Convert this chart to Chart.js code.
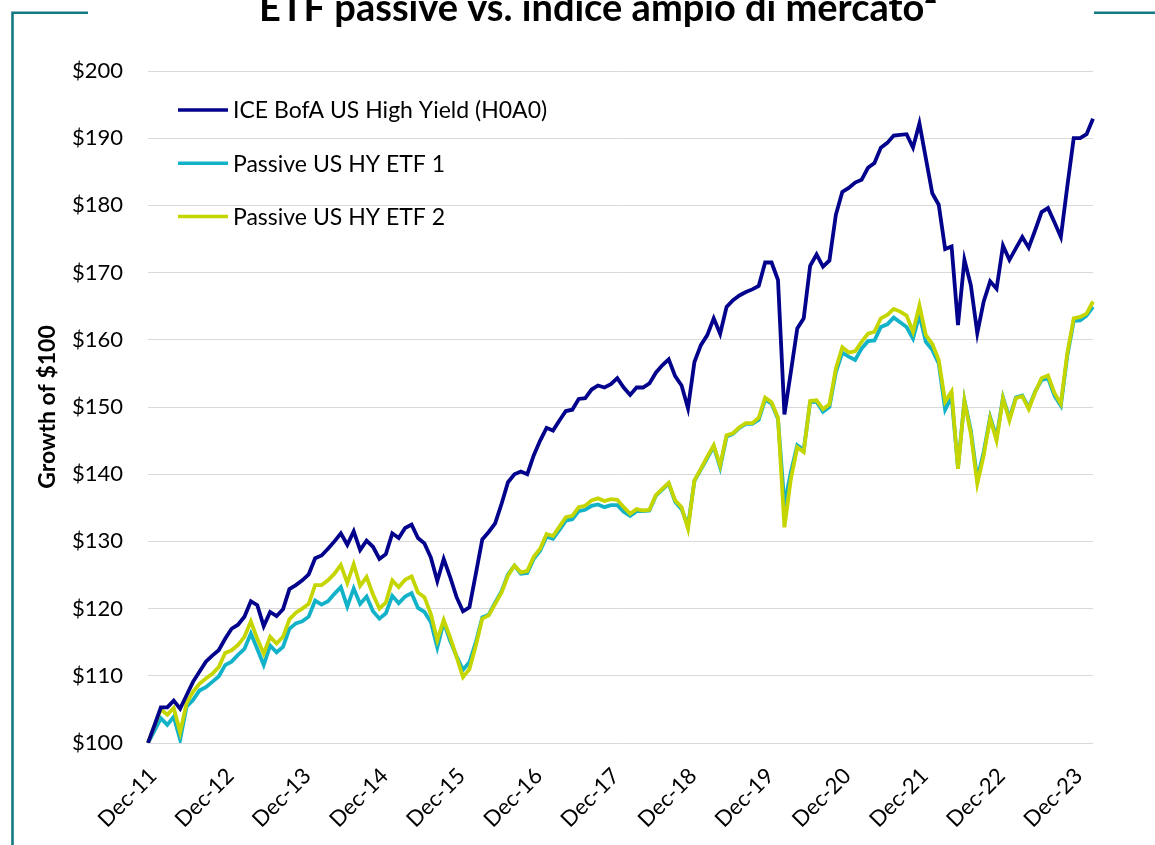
<!DOCTYPE html>
<html>
<head>
<meta charset="utf-8">
<script src="https://cdn.jsdelivr.net/npm/chart.js@4.4.1/dist/chart.umd.min.js"></script>
<style>
  html, body { margin: 0; padding: 0; background: #ffffff; }
  #wrap { position: relative; width: 1155px; height: 845px; }
  canvas { display: block; }
</style>
</head>
<body>
<div id="wrap"><canvas id="c" width="1155" height="845"></canvas></div>
<script>
// ---- Data (monthly, Dec-11 .. Mar-24) ----
const monthNames = ["Dec","Jan","Feb","Mar","Apr","May","Jun","Jul","Aug","Sep","Oct","Nov"];
const startYear = 11;
const monthCount = 148;
const categories = [];
for (let i = 0; i < monthCount; i++) {
  const m = i % 12;
  const yr = startYear + Math.floor((i + 11) / 12);
  categories.push(monthNames[m] + "-" + String(yr).padStart(2, "0"));
}
const tickLabels = ["Dec-11","Dec-12","Dec-13","Dec-14","Dec-15","Dec-16","Dec-17","Dec-18","Dec-19","Dec-20","Dec-21","Dec-22","Dec-23"];

const seriesNames = ["ICE BofA US High Yield (H0A0)", "Passive US HY ETF 1", "Passive US HY ETF 2"];

const indexValues = [
  100.0,102.6,105.3,105.3,106.3,105.1,107.1,109.1,110.6,112.1,113.0,113.8,
  115.5,117.0,117.6,118.8,121.1,120.5,117.4,119.5,118.9,119.9,122.9,123.5,
  124.2,125.1,127.5,127.9,128.9,130.0,131.2,129.5,131.5,128.7,130.1,129.2,
  127.4,128.1,131.2,130.5,132.0,132.5,130.5,129.7,127.6,124.1,127.4,124.7,
  121.7,119.6,120.2,125.2,130.3,131.4,132.7,135.6,138.8,140.0,140.4,140.0,
  142.8,145.0,146.9,146.5,148.0,149.4,149.6,151.2,151.3,152.6,153.2,152.9,
  153.4,154.3,152.9,151.8,152.9,152.9,153.5,155.1,156.2,157.1,154.6,153.2,
  149.8,156.7,159.2,160.7,163.2,160.9,164.9,165.9,166.6,167.1,167.5,168.0,
  171.5,171.5,168.9,148.9,155.2,161.7,163.2,171.0,172.7,170.9,171.8,178.6,
  182.0,182.6,183.4,183.8,185.6,186.3,188.6,189.3,190.4,190.5,190.6,188.6,
  192.2,187.0,181.8,180.1,173.5,173.9,162.2,171.9,168.1,161.0,165.7,168.7,
  167.6,174.0,171.9,173.6,175.3,173.7,176.3,179.0,179.6,177.5,175.3,182.8,
  190.0,190.0,190.6,192.9
];

const etf1Values = [
  100.0,101.8,103.7,102.7,103.9,100.5,105.4,106.4,107.8,108.3,109.1,109.9,
  111.6,112.1,113.1,114.0,116.3,114.0,111.6,114.5,113.5,114.3,117.0,117.8,
  118.1,118.8,121.2,120.6,121.1,122.2,123.2,120.3,123.0,120.7,121.8,119.6,
  118.5,119.3,121.9,120.8,121.8,122.3,120.1,119.5,118.0,114.2,118.0,115.2,
  112.9,110.9,112.0,115.0,118.7,119.1,120.9,122.6,125.1,126.4,125.2,125.3,
  127.4,128.6,130.7,130.4,131.7,133.1,133.3,134.5,134.7,135.3,135.5,135.1,
  135.4,135.4,134.4,133.8,134.5,134.5,134.6,136.8,137.7,138.6,135.9,134.8,
  132.3,139.0,140.7,142.4,144.1,141.0,145.6,146.0,146.9,147.5,147.5,148.1,
  151.1,150.5,148.2,135.5,140.3,144.3,143.6,150.7,150.8,149.3,150.0,155.2,
  158.1,157.5,157.0,158.7,159.8,159.9,161.9,162.3,163.3,162.6,161.9,160.2,
  163.7,159.7,158.5,156.5,149.6,151.5,141.0,151.0,146.5,139.3,143.3,148.5,
  145.5,151.4,148.3,151.4,151.7,149.9,152.3,154.0,154.3,151.7,150.2,157.6,
  162.8,162.9,163.6,164.9
];

const etf2Values = [
  100.0,102.6,105.0,104.2,105.2,101.6,105.9,107.6,108.8,109.6,110.3,111.3,
  113.4,113.8,114.6,115.8,118.1,115.5,113.3,115.8,114.8,115.8,118.4,119.4,
  120.0,120.7,123.5,123.5,124.2,125.2,126.5,123.8,126.6,123.4,124.7,122.1,
  120.0,120.9,124.2,123.2,124.3,124.8,122.4,121.7,119.2,115.3,118.3,115.7,
  112.8,109.8,111.0,114.5,118.5,119.0,120.7,122.4,124.9,126.4,125.4,125.6,
  127.7,128.9,131.1,130.8,132.2,133.6,133.8,135.1,135.3,136.1,136.4,136.0,
  136.3,136.2,135.1,134.1,134.8,134.6,134.7,136.9,137.8,138.7,136.1,135.1,
  131.9,139.1,140.8,142.6,144.3,141.3,145.8,146.1,147.0,147.6,147.6,148.4,
  151.4,150.7,148.4,132.1,139.3,144.0,143.3,150.9,151.0,149.7,150.4,155.7,
  158.9,158.1,158.3,159.7,160.9,161.2,163.2,163.7,164.6,164.2,163.6,161.2,
  165.1,160.7,159.4,157.0,150.8,152.3,140.8,150.9,146.0,138.6,142.8,148.3,
  145.0,151.3,148.0,151.3,151.6,149.7,152.2,154.3,154.7,152.1,150.5,158.0,
  163.2,163.4,163.9,165.7
];

const yTickValues = [100,110,120,130,140,150,160,170,180,190,200];

// ---- Styling ----
const FONT = "Lato, 'Open Sans', 'Noto Sans', sans-serif";
const colors = ["#02028c", "#12b2c8", "#c5d500"];
const teal = "#137a84";

const decorPlugin = {
  id: "decor",
  beforeDraw(chart) {
    const ctx = chart.ctx;
    ctx.save();
    ctx.strokeStyle = teal;
    ctx.lineWidth = 2.6;
    ctx.beginPath();
    ctx.moveTo(12.5, 845);
    ctx.lineTo(12.5, 12.8);
    ctx.lineTo(88, 12.8);
    ctx.moveTo(1094, 12.8);
    ctx.lineTo(1155, 12.8);
    ctx.stroke();
    // title
    ctx.fillStyle = "#000000";
    ctx.font = "bold 38px " + FONT;
    ctx.textAlign = "center";
    ctx.textBaseline = "alphabetic";
    ctx.fillText("ETF passive vs. indice ampio di mercato\u00B2", 598, 21);
    ctx.restore();
  },
  afterDraw(chart) {
    const ctx = chart.ctx;
    const area = chart.chartArea;
    ctx.save();
    ctx.font = "23px " + FONT;
    ctx.textAlign = "left";
    ctx.textBaseline = "middle";
    chart.data.datasets.forEach((ds, k) => {
      const y = area.top + 39 + k * 53.3;
      const x0 = area.left + 30;
      ctx.strokeStyle = ds.borderColor;
      ctx.lineWidth = 3.5;
      ctx.beginPath();
      ctx.moveTo(x0, y);
      ctx.lineTo(x0 + 50, y);
      ctx.stroke();
      ctx.fillStyle = "#000000";
      ctx.fillText(ds.label, x0 + 55, y + 1);
    });
    ctx.restore();
  }
};

new Chart(document.getElementById("c"), {
  type: "line",
  data: {
    labels: categories,
    datasets: [
      { label: seriesNames[0], data: indexValues, borderColor: colors[0], backgroundColor: colors[0], borderWidth: 3.8, pointRadius: 0, tension: 0, order: 0 },
      { label: seriesNames[1], data: etf1Values, borderColor: colors[1], backgroundColor: colors[1], borderWidth: 3.8, pointRadius: 0, tension: 0, order: 2 },
      { label: seriesNames[2], data: etf2Values, borderColor: colors[2], backgroundColor: colors[2], borderWidth: 3.8, pointRadius: 0, tension: 0, order: 1 }
    ]
  },
  options: {
    responsive: false,
    animation: false,
    events: [],
    layout: { padding: { left: 0, top: 71, right: 62, bottom: 0 } },
    plugins: {
      legend: { display: false },
      title: { display: false },
      tooltip: { enabled: false }
    },
    scales: {
      x: {
        type: "category",
        offset: false,
        grid: { display: false, drawTicks: false },
        border: { display: false },
        afterBuildTicks(scale) {
          scale.ticks = scale.ticks.filter(t => tickLabels.includes(categories[t.value]));
        },
        afterFit(scale) { scale.height = 102; },
        ticks: {
          autoSkip: false,
          maxRotation: 45,
          minRotation: 45,
          padding: 20,
          labelOffset: 5,
          color: "#000000",
          font: { family: FONT, size: 22 },
          callback(value) { return categories[value]; }
        }
      },
      y: {
        min: 100,
        max: 200,
        afterBuildTicks(scale) {
          scale.ticks = yTickValues.map(v => ({ value: v }));
        },
        afterFit(scale) { scale.width = 148; },
        grid: { color: "#d9d9d9", lineWidth: 1, drawTicks: false },
        border: { display: false },
        ticks: {
          padding: 25,
          color: "#000000",
          font: { family: FONT, size: 22 },
          callback(value) { return "$" + value; }
        },
        title: {
          display: true,
          text: "Growth of $100",
          color: "#000000",
          font: { family: FONT, size: 23, weight: "bold" },
          padding: { top: 34, bottom: 0 }
        }
      }
    }
  },
  plugins: [decorPlugin]
});
</script>
</body>
</html>
